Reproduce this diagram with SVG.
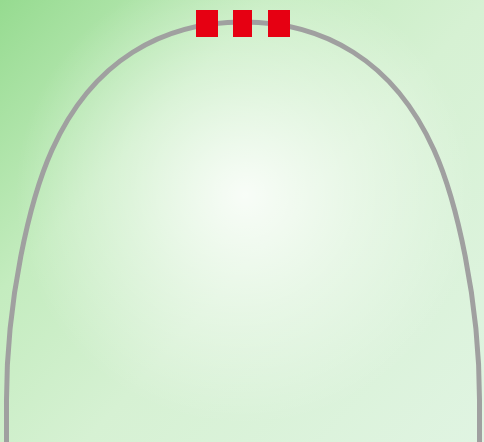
<svg xmlns="http://www.w3.org/2000/svg" width="484" height="442" viewBox="0 0 484 442">
  <defs>
    <linearGradient id="base" gradientUnits="userSpaceOnUse" x1="0" y1="0" x2="484" y2="442">
      <stop offset="0" stop-color="#96db90"/>
      <stop offset="0.3" stop-color="#c4ecbf"/>
      <stop offset="0.55" stop-color="#d6f1d3"/>
      <stop offset="1" stop-color="#e0f4e2"/>
    </linearGradient>
    <radialGradient id="glow" gradientUnits="userSpaceOnUse" cx="245" cy="195" r="230">
      <stop offset="0" stop-color="#ffffff" stop-opacity="0.85"/>
      <stop offset="0.5" stop-color="#ffffff" stop-opacity="0.4"/>
      <stop offset="1" stop-color="#ffffff" stop-opacity="0"/>
    </radialGradient>
    <style>
      .arch { fill: none; stroke: #a0a0a0; stroke-width: 5; }
      .light { fill: #e60012; }
    </style>
  </defs>
  <rect x="0" y="0" width="484" height="442" fill="url(#base)"/>
  <rect x="0" y="0" width="484" height="442" fill="url(#glow)"/>
  <g id="connectors">
    <path id="arch" class="arch" d="M6.5,442 L6.5,400 C6.5,300 29.5,200 52,150 C92.5,60 163,22 243,22 C323,22 393.5,60 434,150 C456.5,200 479.5,300 479.5,400 L479.5,442"/>
  </g>
  <g id="light1"><rect class="light" x="196" y="10" width="22" height="27"/></g>
  <g id="light2"><rect class="light" x="233" y="10" width="19" height="27"/></g>
  <g id="light3"><rect class="light" x="268" y="10" width="22" height="27"/></g>
</svg>
